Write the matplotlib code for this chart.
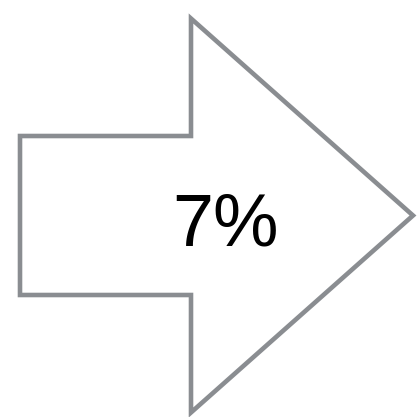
import matplotlib.pyplot as plt
from matplotlib.patches import FancyArrow

# value shown in the arrow
value = 7
label = f"{value}%"

# arrow geometry (pixel-like data units)
tail_x, mid_y = 20, 215.5
tip_x = 413
shaft_w = 159
head_w = 394
head_len = 222

fig = plt.figure(figsize=(4.18, 4.17), dpi=100)
ax = fig.add_axes([0, 0, 1, 1])
ax.set_xlim(0, 418)
ax.set_ylim(417, 0)
ax.axis('off')

arrow = FancyArrow(tail_x, mid_y, tip_x - tail_x, 0, width=shaft_w,
                   head_width=head_w, head_length=head_len,
                   length_includes_head=True, facecolor='white',
                   edgecolor='#8a8d91', linewidth=3.3, joinstyle='miter')
ax.add_patch(arrow)

ax.text(225, 245, label, ha='center', va='baseline', fontsize=53,
        family=['Liberation Sans', 'DejaVu Sans'], color='black')

fig.savefig('out.png', dpi=100, facecolor='white')
